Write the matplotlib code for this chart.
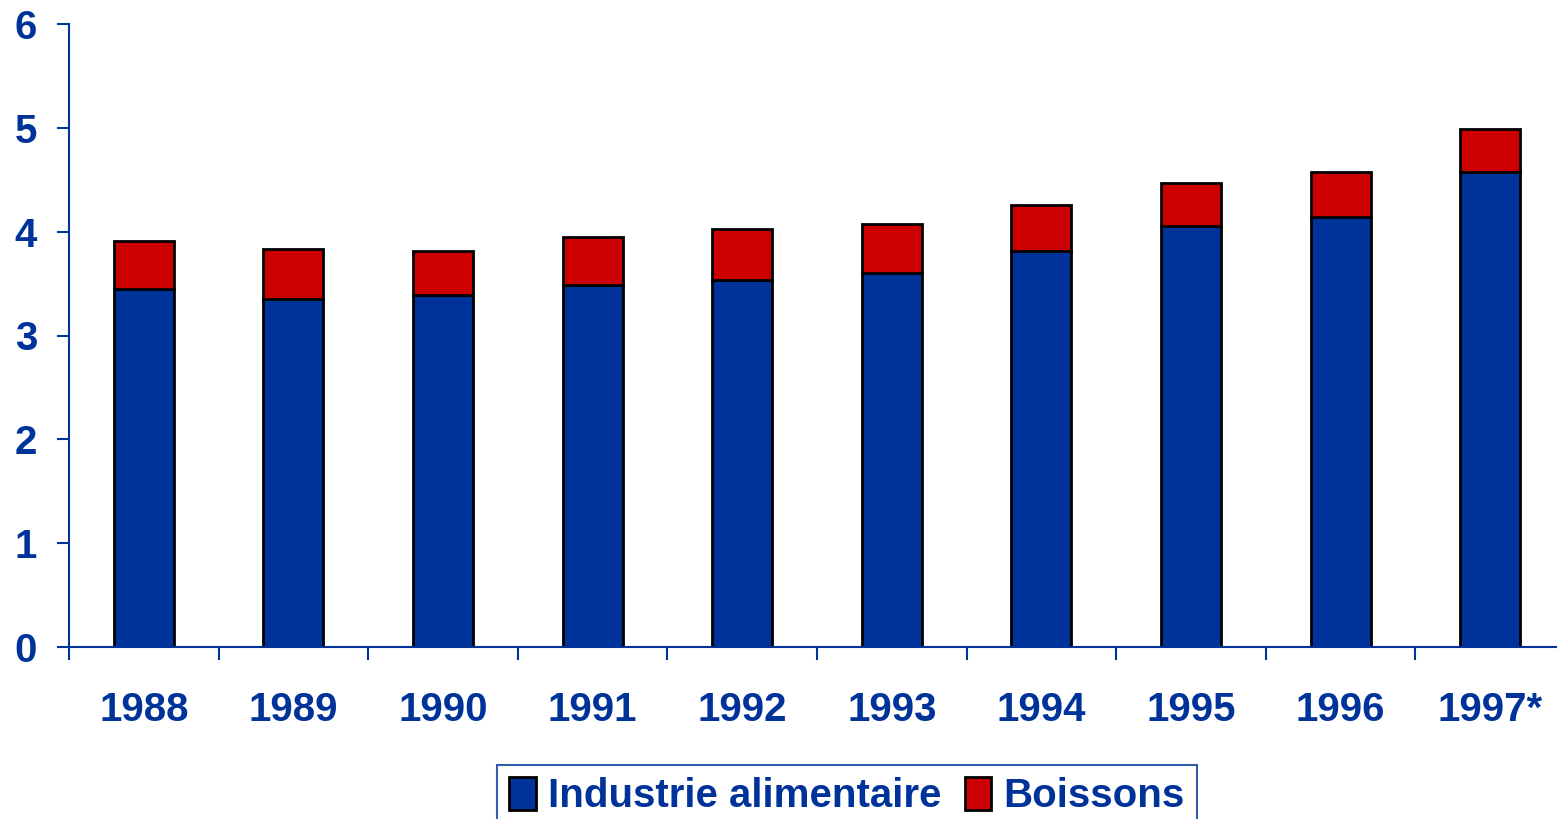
import numpy as np
import matplotlib.pyplot as plt

years = ['1988', '1989', '1990', '1991', '1992', '1993', '1994', '1995', '1996', '1997*']
alim = [3.45, 3.35, 3.39, 3.49, 3.53, 3.60, 3.81, 4.05, 4.14, 4.57]
total = [3.91, 3.83, 3.81, 3.95, 4.03, 4.07, 4.26, 4.47, 4.57, 4.99]
boissons = [t - a for t, a in zip(total, alim)]

blue = '#003399'
red = '#CC0000'

plt.rcParams['font.family'] = ['Liberation Sans', 'DejaVu Sans']
plt.rcParams['font.weight'] = 'bold'

fig = plt.figure(figsize=(15.57, 8.19), dpi=100)
ax = fig.add_axes([69/1557, 172/819, 1496/1557, 623/819])

x = np.arange(len(years)) + 0.5
ax.bar(x, alim, width=0.4, color=blue, edgecolor='black', linewidth=2, label='Industrie alimentaire')
ax.bar(x, boissons, bottom=alim, width=0.4, color=red, edgecolor='black', linewidth=2, label='Boissons')

ax.set_xlim(0, len(years))
ax.set_ylim(0, 6)
ax.set_yticks(range(7))
ax.set_xticks(np.arange(len(years) + 1))
ax.set_xticklabels([])
ax.set_xticks(x, minor=True)
ax.set_xticklabels(years, minor=True)
ax.tick_params(axis='x', which='minor', length=0, pad=32, labelsize=29, labelcolor=blue)
ax.tick_params(axis='x', which='major', direction='out', length=9, width=1.5, color=blue)
ax.tick_params(axis='y', direction='out', length=9, width=1.5, color=blue, pad=14,
               labelsize=29, labelcolor=blue)

for s in ['top', 'right']:
    ax.spines[s].set_visible(False)
for s in ['left', 'bottom']:
    ax.spines[s].set_color(blue)
    ax.spines[s].set_linewidth(1.5)

leg = fig.legend(loc='lower center', bbox_to_anchor=(847/1557, -0.035), ncol=2,
                 fontsize=29, frameon=True, fancybox=False, edgecolor=blue,
                 handlelength=0.65, handleheight=0.9, handletextpad=0.3, columnspacing=0.6,
                 borderpad=0.3)
leg.get_frame().set_linewidth(1.5)
for t in leg.get_texts():
    t.set_color(blue)
    t.set_fontweight('bold')

fig.savefig('out.png', dpi=100)
